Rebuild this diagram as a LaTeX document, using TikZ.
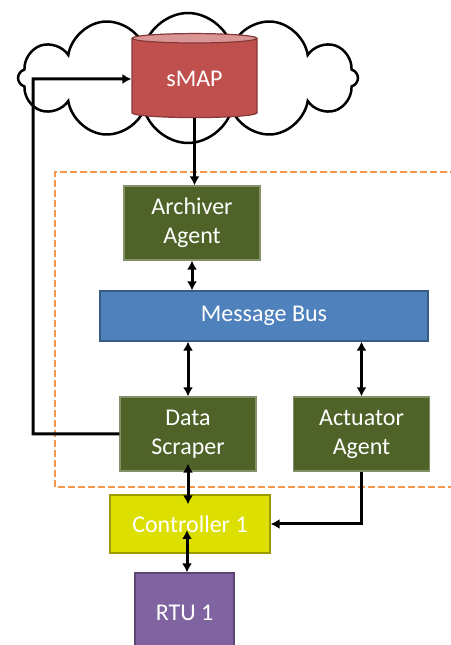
\documentclass[tikz,border=0pt]{standalone}
\usepackage{fontspec}
\setmainfont{Carlito}
\usetikzlibrary{positioning,shapes.geometric,shapes.symbols,arrows.meta}

\definecolor{agentgreen}{HTML}{4F6228}
\definecolor{busblue}{HTML}{4F81BD}
\definecolor{dbred}{HTML}{C0504D}
\definecolor{dbtop}{HTML}{D99694}
\definecolor{ctrlyellow}{HTML}{DDDF00}
\definecolor{rtupurple}{HTML}{8064A2}
\definecolor{dashorange}{HTML}{F79646}

\begin{document}
\begin{tikzpicture}[x=1pt,y=1pt,
    box/.style={rectangle,text=white,align=center,line width=1.2pt,
      font=\fontsize{24}{29}\selectfont},
    agent/.style={box,fill=agentgreen,draw=agentgreen!70!white,
      minimum width=136pt,minimum height=74pt},
    arr/.style={line width=3pt,-{Latex[length=9pt,width=10pt]}},
    darr/.style={line width=3pt,{Latex[length=9pt,width=10pt]}-{Latex[length=9pt,width=10pt]}}]
  \useasboundingbox (0,0) rectangle (450,645);

  % cloud with the sMAP store
  \node[cloud,draw,fill=white,line width=2.5pt,cloud puffs=12,aspect=2.6,
    minimum width=340pt,minimum height=130pt](cloud) at (188,567){};
  \node[cylinder,shape border rotate=90,aspect=0.15,draw=dbred!70!black,
    line width=1.2pt,cylinder uses custom fill,cylinder body fill=dbred,
    cylinder end fill=dbtop,minimum width=125pt,minimum height=84pt,
    text=white,font=\fontsize{24}{29}\selectfont](smap) at (194.5,566){sMAP};

  % platform boundary
  \draw[dashorange,line width=2pt,dash pattern=on 7pt off 3pt] (55,158) rectangle (470,473);

  \node[agent](archiver) at (192,422){Archiver\\Agent};
  \node[box,fill=busblue,draw=busblue!70!black,minimum width=328pt,
    minimum height=50pt](bus) at (264,329){Message Bus};
  \node[agent](scraper) at (188,211){Data\\Scraper};
  \node[agent](actuator) at (361.5,211){Actuator\\Agent};
  \node[box,fill=ctrlyellow,draw=ctrlyellow!70!black,minimum width=160pt,
    minimum height=58pt](ctrl) at (190,121){Controller 1};
  \node[box,fill=rtupurple,draw=rtupurple!70!black,minimum width=99pt,
    minimum height=80pt](rtu) at (184.5,32){RTU 1};

  \coordinate (loop) at (33,566);

  \draw[arr] (smap.south) -- (smap.south |- archiver.north);
  \draw[darr] (archiver.south) -- (archiver.south |- bus.north);
  \draw[darr] (bus.south -| scraper.north) -- (scraper.north);
  \draw[darr] (bus.south -| actuator.north) -- (actuator.north);
  \draw[darr] ([yshift=8pt]scraper.south) -- ([yshift=-10pt]scraper.south |- ctrl.north);
  \draw[darr] ([xshift=-3pt,yshift=-6pt]ctrl.center) -- ([xshift=-3pt]ctrl.center |- rtu.north);
  \draw[arr] (actuator.south) |- (ctrl.east);
  \draw[arr] (scraper.west) -| (loop) -- (smap.west);
\end{tikzpicture}
\end{document}
